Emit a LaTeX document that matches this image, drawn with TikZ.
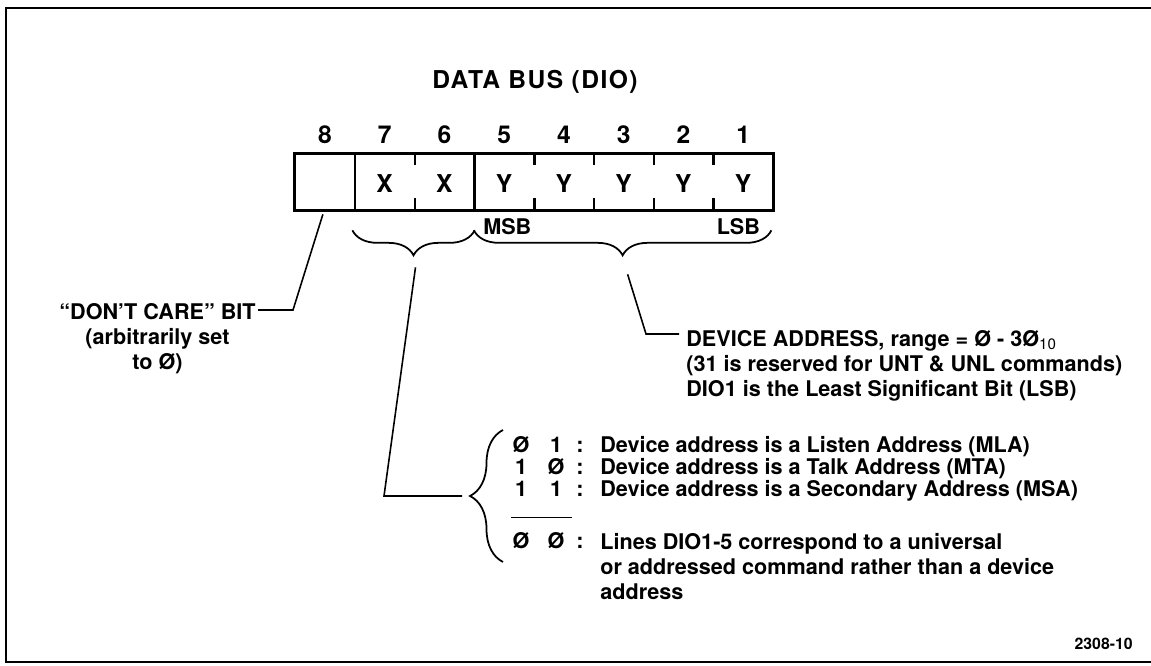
\documentclass[tikz,border=0pt]{standalone}
\usepackage{fontspec}
\setmainfont{TeX Gyre Heros}
\newfontfamily\titlefont[LetterSpace=6]{TeX Gyre Heros}
\usetikzlibrary{calc,decorations.pathreplacing}

\begin{document}
\begin{tikzpicture}[x=0.02cm, y=0.02cm, font=\bfseries\fontsize{12.3}{14.2}\selectfont,
  txt/.style={inner sep=0pt},
  big/.style={font=\bfseries\fontsize{14}{16}\selectfont},
  cell/.style={minimum width=1.195cm, minimum height=1.12cm, inner sep=0pt},
  wall/.style={line width=1.4pt},
  lead/.style={line width=0.9pt},
  brc/.style={decorate, decoration={brace, amplitude=#1}, line width=1pt}]
  \useasboundingbox (0,0) rectangle (1151,665);
  \draw[line width=1.4pt] (1151,657) -- (6,657) -- (6,3) -- (1151,3);

  \node[txt, font={\titlefont\bfseries\fontsize{14}{16}\selectfont}] (title) at (535,583) {DATA BUS (DIO)};

  % the register, bit 8 on the left
  \foreach \b in {8,...,1}
    \node[cell] (cell\b) at ({295+59.75*(8.5-\b)},483) {};
  \foreach \b in {8,...,1}
    \node[txt, big, anchor=base] (num\b) at ($(cell\b.north)+(0,10)$) {\b};
  \foreach \b/\v in {7/X,6/X,5/Y,4/Y,3/Y,2/Y,1/Y}
    \node[txt, big] (val\b) at ($(cell\b)+(0,-2)$) {\v};
  \draw[wall] (cell8.north west) rectangle (cell1.south east);
  \draw[wall] (cell8.north east) -- (cell8.south east);
  \draw[wall] (cell6.north east) -- (cell6.south east);
  \foreach \b in {7,5,4,3,2} {
    \draw[wall] (cell\b.north east) -- ++(0,-11);
    \draw[wall] (cell\b.south east) -- ++(0,12);
  }
  \node[txt, anchor=north west] (msb) at ($(cell5.south west)+(9,-8)$) {MSB};
  \node[txt, anchor=north east] (lsb) at ($(cell1.south east)+(-13,-8)$) {LSB};

  % braces under the two fields
  \draw[brc=0.5cm] ($(cell6.south east)+(0,-20)$) -- ($(cell7.south west)+(-2,-20)$);
  \draw[brc=0.5cm] ($(cell1.south east)+(-2,-20)$) -- ($(cell5.south west)+(0,-20)$);
  \coordinate (tipA) at ($(cell7.south west)!0.5!(cell6.south east)+(0,-45)$);
  \coordinate (tipB) at ($(cell5.south west)!0.5!(cell1.south east)+(0,-45)$);

  % bit 8
  \node[txt, anchor=north east, align=center] (care) at (256,362) {“DON’T CARE” BIT\\(arbitrarily set\\to Ø)};
  \draw[lead] ($(cell8.south)+(-2,-4)$) -- (293,355) -- ($(care.north east)+(2,-7)$);

  % bits 5-1
  \node[txt, anchor=north west, align=left] (dev) at (686,335) {DEVICE ADDRESS, range = Ø - 3Ø\textsubscript{\mdseries 10}\\(31 is reserved for UNT \& UNL commands)\\DIO1 is the Least Significant Bit (LSB)};
  \draw[lead] ($(tipB)+(4,-19)$) -- (646,331) -- ($(dev.north west)+(-7,-4)$);

  % bits 7 and 6
  \draw[brc=0.66cm] (503,103) -- (503,235);
  \coordinate (tipC) at ($(503,103)!0.5!(503,235)+(-33,0)$);
  \draw[lead] ($(tipA)+(1,-12)$) -- (384,169) -- ($(tipC)+(-8,0)$);
  \foreach \n/\y/\hi/\lo/\what in {1/212.5/Ø/1/{Device address is a Listen Address (MLA)},
      2/190.5/1/Ø/{Device address is a Talk Address (MTA)},
      3/168.5/1/1/{Device address is a Secondary Address (MSA)}} {
    \node[txt, anchor=base] (hi\n) at (521,\y) {\hi};
    \node[txt, anchor=base] (lo\n) at (556,\y) {\lo};
    \node[txt, anchor=base] (col\n) at (580,\y) {:};
    \node[txt, anchor=base west] (row\n) at (600,\y) {\what};
  }
  \draw[thin] (511,148) -- (572,148);
  \node[txt, anchor=base] (hi4) at (521,116.5) {Ø};
  \node[txt, anchor=base] (lo4) at (556,116.5) {Ø};
  \node[txt, anchor=base] (col4) at (580,116.5) {:};
  \node[txt, anchor=north west, align=left] (row4) at (600,131.5) {Lines DIO1-5 correspond to a universal\\or addressed command rather than a device\\address};

  \node[txt, anchor=base east, font=\bfseries\fontsize{9}{11}\selectfont] (fig) at (1133,15) {2308-10};
\end{tikzpicture}
\end{document}
